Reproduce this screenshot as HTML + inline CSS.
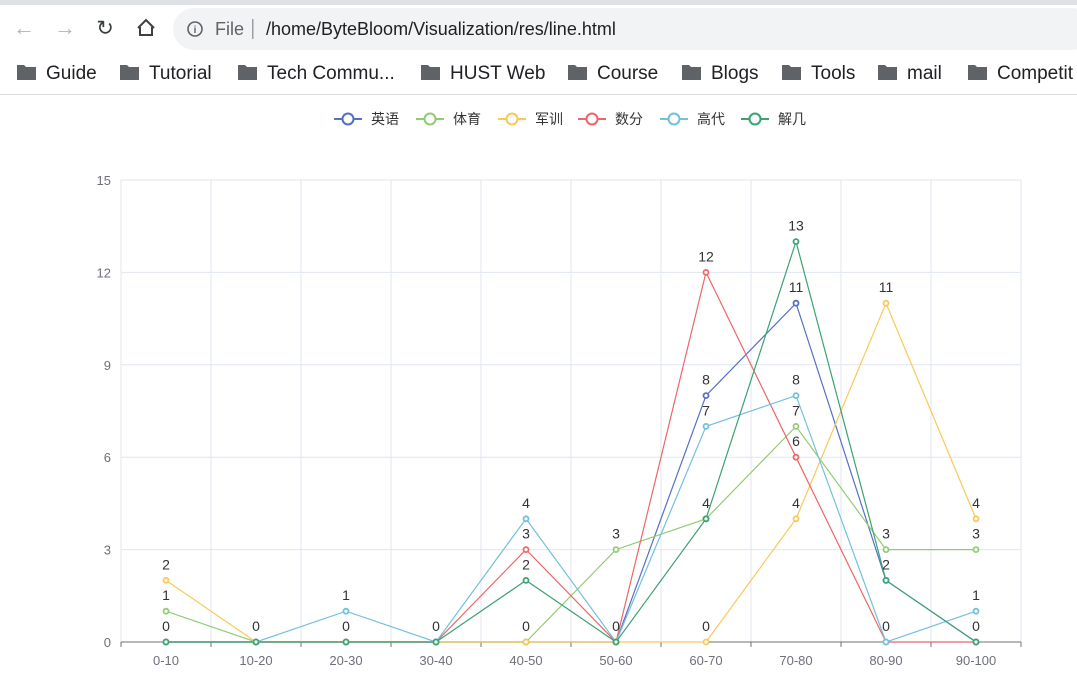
<!DOCTYPE html>
<html><head><meta charset="utf-8">
<style>
html,body{margin:0;padding:0;background:#fff;width:1077px;height:694px;overflow:hidden;font-family:"Liberation Sans","Noto Sans CJK SC",sans-serif}
</style></head>
<body>
<svg id="root" width="1077" height="694" xmlns="http://www.w3.org/2000/svg">
  <rect x="0" y="0" width="1077" height="5" fill="#dee1e6"/>
  <g>
    <text x="24" y="35" font-size="22" fill="#b0b3b8" text-anchor="middle">←</text>
    <text x="65" y="35" font-size="22" fill="#b0b3b8" text-anchor="middle">→</text>
    <text x="105" y="35" font-size="21" fill="#3c4043" text-anchor="middle">↻</text>
    <path d="M138 28 L146 20 L154 28 M140 27 V35 H152 V27" fill="none" stroke="#3c4043" stroke-width="2"/>
    <rect x="173" y="8" width="920" height="42" rx="21" fill="#f1f3f4"/>
    <circle cx="195" cy="29" r="7" fill="none" stroke="#5f6368" stroke-width="1.6"/>
    <text x="195" y="33" font-size="10" fill="#5f6368" text-anchor="middle" font-weight="bold">i</text>
    <text x="215" y="35" font-size="18" fill="#5f6368">File</text>
    <rect x="252" y="19" width="1.5" height="20" fill="#9aa0a6"/>
    <text x="266" y="35" font-size="18" fill="#202124">/home/ByteBloom/Visualization/res/line.html</text>
  </g>
  <g id="bookmarks"></g>
  <rect x="0" y="94" width="1077" height="1" fill="#dadce0"/>
  <g id="legend"></g>
  <g id="chart"></g>
</svg>
<script>
const categories=['0-10','10-20','20-30','30-40','40-50','50-60','60-70','70-80','80-90','90-100'];
const seriesNames=['英语','体育','军训','数分','高代','解几'];
const english=[0,0,0,0,0,0,8,11,2,0];
const sports=[1,0,0,0,0,3,4,7,3,3];
const military=[2,0,0,0,0,0,0,4,11,4];
const analysis=[0,0,0,0,3,0,12,6,0,0];
const algebra=[0,0,1,0,4,0,7,8,0,1];
const geometry=[0,0,0,0,2,0,4,13,2,0];
const yTicks=[0,3,6,9,12,15];
const bookmarkNames=['Guide','Tutorial','Tech Commu...','HUST Web','Course','Blogs','Tools','mail','Competit'];

const NS='http://www.w3.org/2000/svg';
function mk(tag,attrs,parent){const e=document.createElementNS(NS,tag);for(const k in attrs)e.setAttribute(k,attrs[k]);parent.appendChild(e);return e;}
const colors=['#5470c6','#91cc75','#fac858','#ee6666','#73c0de','#3ba272'];
const allSeries=[english,sports,military,analysis,algebra,geometry];

const bm=document.getElementById('bookmarks');
const bmX=[17,120,238,421,568,682,782,878,968];
bookmarkNames.forEach((n,i)=>{
  const g=mk('g',{},bm);
  
  
  mk('path',{d:`M${bmX[i]} 65 h7 l2 2 h10 v13 h-19 z`,fill:'#5f6368'},g);
  const t=mk('text',{x:bmX[i]+29,y:79,'font-size':19,fill:'#202124'},g);t.textContent=n;
});

const lg=document.getElementById('legend');
const lgX=[334,416,498,578,660,741];
seriesNames.forEach((n,i)=>{
  const g=mk('g',{},lg);
  
  
  mk('line',{x1:lgX[i],y1:119,x2:lgX[i]+28,y2:119,stroke:colors[i],'stroke-width':2},g);
  mk('circle',{cx:lgX[i]+14,cy:119,r:5.5,fill:'#fff',stroke:colors[i],'stroke-width':2},g);
  const t=mk('text',{x:lgX[i]+37,y:124,'font-size':14,fill:'#333'},g);t.textContent=n;
});

const ch=document.getElementById('chart');
const L=121,R=1021,T=180,B=642,yMax=15;
const bw=(R-L)/categories.length;
const xs=i=>L+bw*(i+0.5);
const ys=v=>B-(v/yMax)*(B-T);
yTicks.forEach(v=>{
  const l=mk('line',{x1:L,x2:R,y1:ys(v),y2:ys(v),stroke:'#e0e6f1','stroke-width':1},ch);
  
  
  const t=mk('text',{x:L-10,y:ys(v)+5,'font-size':13,fill:'#6e7079','text-anchor':'end'},ch);
  
  
  t.textContent=v;
});
for(let i=0;i<=categories.length;i++){
  const x=L+bw*i;
  mk('line',{x1:x,x2:x,y1:T,y2:B,stroke:'#e0e6f1','stroke-width':1},ch);
  mk('line',{x1:x,x2:x,y1:B,y2:B+5,stroke:'#6e7079','stroke-width':1},ch);
}
const ax=mk('line',{x1:L,x2:R,y1:B,y2:B,stroke:'#6e7079','stroke-width':1},ch);


categories.forEach((c,i)=>{
  const t=mk('text',{x:xs(i),y:B+23,'font-size':13,fill:'#6e7079','text-anchor':'middle'},ch);
  
  
  t.textContent=c;
});
allSeries.forEach((d,s)=>{
  const p=mk('polyline',{points:d.map((v,i)=>xs(i)+','+ys(v)).join(' '),fill:'none',stroke:colors[s],'stroke-width':1.2},ch);
  
  
});
const used={};
allSeries.forEach((d,s)=>{
  d.forEach((v,i)=>{
    const c=mk('circle',{cx:xs(i),cy:ys(v),r:2.5,fill:'#fff',stroke:colors[s],'stroke-width':1.8},ch);
    
    
    const key=i+'_'+v;
    if(!used[key]){used[key]=1;
      const t=mk('text',{x:xs(i),y:ys(v)-11,'font-size':14,fill:'#333','text-anchor':'middle'},ch);
      
      
      t.textContent=v;
    }
  });
});
</script>
</body></html>
